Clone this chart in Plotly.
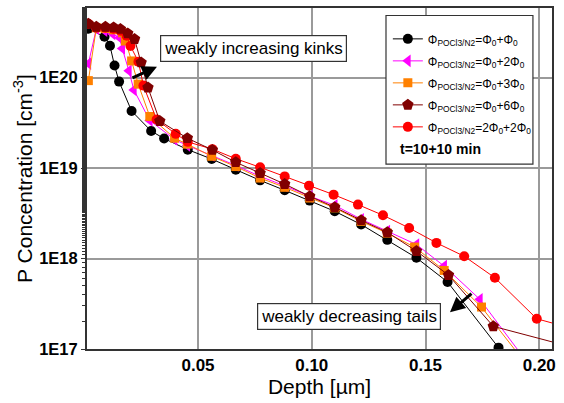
import plotly.graph_objects as go

# ---- data (depth in µm, concentration in cm^-3) ----
x_a = [0.0018, 0.0089, 0.0113, 0.0133, 0.0153, 0.0208, 0.0294, 0.0351, 0.0455, 0.0560,
       0.0666, 0.0773, 0.0881, 0.0991, 0.1101, 0.1217, 0.1332, 0.1460, 0.1597, 0.1821]
y_a = [3.47e20, 2.83e20, 2.25e20, 1.36e20, 9.04e19, 4.28e19, 2.57e19, 2.12e19, 1.60e19, 1.26e19,
       9.61e18, 7.32e18, 5.68e18, 4.37e18, 3.33e18, 2.38e18, 1.61e18, 1.02e18, 5.50e17, 1.035e17]

x_b = [0.0018, 0.0053, 0.0089, 0.0124, 0.0155, 0.0167, 0.0196, 0.0218, 0.0288, 0.0397, 0.0453, 0.0560,
       0.0666, 0.0773, 0.0881, 0.0991, 0.1101, 0.1217, 0.1332, 0.1460, 0.1582, 0.1739, 0.1932]
y_b = [1.43e20, 3.47e20, 3.30e20, 3.05e20, 2.76e20, 2.10e20, 1.19e20, 7.32e19, 3.36e19, 2.07e19, 1.78e19, 1.38e19,
       1.07e19, 8.10e18, 6.37e18, 4.88e18, 3.88e18, 2.72e18, 2.01e18, 1.43e18, 8.25e17, 3.54e17, 7.98e16]

x_c = [0.0018, 0.0053, 0.0093, 0.0130, 0.0168, 0.0181, 0.0208, 0.0237, 0.0288, 0.0397, 0.0453, 0.0560,
       0.0666, 0.0773, 0.0881, 0.0991, 0.1101, 0.1217, 0.1332, 0.1452, 0.1582, 0.1746, 0.1923]
y_c = [9.27e19, 3.56e20, 3.50e20, 3.38e20, 3.13e20, 2.54e20, 1.53e20, 8.47e19, 3.72e19, 2.14e19, 1.84e19, 1.35e19,
       1.04e19, 7.76e18, 6.13e18, 4.67e18, 3.63e18, 2.58e18, 1.91e18, 1.34e18, 7.39e17, 2.91e17, 7.86e16]

x_d = [0.0018, 0.0053, 0.0093, 0.0129, 0.0159, 0.0191, 0.0221, 0.0250, 0.0280, 0.0332, 0.0453, 0.0563,
       0.0666, 0.0773, 0.0881, 0.0991, 0.1101, 0.1217, 0.1332, 0.1460, 0.1601, 0.1798, 0.2157]
y_d = [3.94e20, 3.65e20, 3.65e20, 3.59e20, 3.45e20, 3.08e20, 2.67e20, 1.47e20, 7.76e19, 3.31e19, 2.14e19, 1.59e19,
       1.16e19, 8.81e18, 6.66e18, 4.88e18, 3.69e18, 2.65e18, 1.95e18, 1.21e18, 6.56e17, 1.78e17, 1.028e17]

x_e = [0.0018, 0.0053, 0.0093, 0.0128, 0.0159, 0.0186, 0.0203, 0.0238, 0.0260, 0.0318, 0.0402, 0.0455, 0.0563,
       0.0666, 0.0773, 0.0881, 0.0988, 0.1096, 0.1203, 0.1313, 0.1428, 0.1548, 0.1670, 0.1805, 0.1989, 0.2157]
y_e = [3.94e20, 3.56e20, 3.56e20, 3.47e20, 3.30e20, 2.90e20, 2.24e20, 1.50e20, 8.17e19, 3.44e19, 2.39e19, 1.95e19, 1.62e19,
       1.27e19, 1.02e19, 8.10e18, 6.40e18, 5.09e18, 3.95e18, 3.01e18, 2.18e18, 1.49e18, 1.06e18, 6.13e17, 2.16e17, 1.65e17]

names = ["Φ<sub>POCl3/N2</sub>=Φ<sub>0</sub>+Φ<sub>0</sub>",
         "Φ<sub>POCl3/N2</sub>=Φ<sub>0</sub>+2Φ<sub>0</sub>",
         "Φ<sub>POCl3/N2</sub>=Φ<sub>0</sub>+3Φ<sub>0</sub>",
         "Φ<sub>POCl3/N2</sub>=Φ<sub>0</sub>+6Φ<sub>0</sub>",
         "Φ<sub>POCl3/N2</sub>=2Φ<sub>0</sub>+2Φ<sub>0</sub>"]
colors = ["#000000", "#FF00FF", "#FF8000", "#800000", "#FF0000"]
symbols = ["circle", "triangle-left", "square", "pentagon", "circle"]
sizes = [10, 11, 9, 12, 10]

x_ticks = [0.05, 0.10, 0.15, 0.20]
x_ticktext = ["0.05", "0.10", "0.15", "0.20"]
y_ticks = [1e17, 1e18, 1e19, 1e20]
y_ticktext = ["1E17", "1E18", "1E19", "1E20"]

FONT = "Arial, 'Liberation Sans', sans-serif"

fig = go.Figure()
series = [(x_a, y_a), (x_b, y_b), (x_c, y_c), (x_e, y_e), (x_d, y_d)]
idx_order = [0, 1, 2, 4, 3]
for (xs, ys), i in zip(series, idx_order):
    fig.add_trace(go.Scatter(
        x=xs, y=ys, mode="lines+markers", name=names[i],
        line=dict(color=colors[i], width=1),
        marker=dict(symbol=symbols[i], size=sizes[i], color=colors[i], line=dict(width=0)),
        legendrank=i + 1, legendgroup=str(i), cliponaxis=True,
    ))

fig.update_layout(
    width=564, height=403,
    margin=dict(l=87, r=12, t=6, b=54),
    paper_bgcolor="white", plot_bgcolor="white",
    font=dict(family=FONT, color="black"),
    showlegend=True,
    legend=dict(x=0.647, y=0.952, xanchor="left", yanchor="top",
                bgcolor="rgba(0,0,0,0)", borderwidth=0,
                font=dict(size=12, family=FONT), tracegroupgap=3,
                itemsizing="trace"),
    xaxis=dict(range=[0.0012, 0.2056], tickvals=x_ticks,
               ticktext=["<b>%s</b>" % t for t in x_ticktext],
               tickfont=dict(size=17), showgrid=True, gridcolor="#9a9a9a", gridwidth=1.5,
               showline=True, linecolor="#333333", linewidth=2, mirror=True,
               ticks="", zeroline=False,
               title=dict(text="Depth [µm]", font=dict(size=21), standoff=4)),
    yaxis=dict(type="log", range=[17, 20.77], tickvals=y_ticks,
               ticktext=["<b>%s</b>" % t for t in y_ticktext],
               tickfont=dict(size=16.5), showgrid=True, gridcolor="#9a9a9a", gridwidth=1.5,
               showline=True, linecolor="#333333", linewidth=2, mirror=True,
               ticks="outside", ticklen=4, tickcolor="#333333",
               minor=dict(ticks="outside", ticklen=3, tickcolor="#333333", showgrid=False),
               zeroline=False,
               title=dict(text="P Concentration [cm<sup>-3</sup>]", font=dict(size=21), standoff=1)),
    yaxis2=dict(type="log", range=[17, 20.77], overlaying="y", side="right", anchor="x",
                tickvals=y_ticks, showticklabels=False, showgrid=False,
                ticks="inside", ticklen=4, tickcolor="#333333",
                minor=dict(ticks="inside", ticklen=3, tickcolor="#333333", showgrid=False),
                zeroline=False),
)

# legend frame
fig.add_shape(type="rect", xref="paper", yref="paper", x0=0.643, x1=0.959, y0=0.542, y1=0.978,
              line=dict(color="#333333", width=1.2), fillcolor="white", layer="above")
fig.add_annotation(xref="paper", yref="paper", x=0.668, y=0.587, xanchor="left", yanchor="middle",
                   text="<b>t=10+10 min</b>", showarrow=False, font=dict(size=14, family=FONT))

# text boxes
fig.add_annotation(xref="paper", yref="paper", x=0.358, y=0.880, xanchor="center", yanchor="middle",
                   text="weakly increasing kinks",
                   showarrow=False, font=dict(size=17, family=FONT), bgcolor="white",
                   bordercolor="#333333", borderwidth=1.2, borderpad=3)
fig.add_annotation(xref="paper", yref="paper", x=0.5645, y=0.095, xanchor="center", yanchor="middle",
                   text="weakly decreasing tails",
                   showarrow=False, font=dict(size=17, family=FONT), bgcolor="white",
                   bordercolor="#333333", borderwidth=1.2, borderpad=3)
# arrows
fig.add_annotation(xref="paper", yref="paper", x=0.1505, y=0.828, ax=-26, ay=12, text=" ",
                   font=dict(size=1), showarrow=True, arrowhead=2, arrowsize=1, arrowwidth=3,
                   arrowcolor="black")
fig.add_annotation(xref="paper", yref="paper", x=0.7806, y=0.1079, ax=23, ay=-20, text=" ",
                   font=dict(size=1), showarrow=True, arrowhead=2, arrowsize=1, arrowwidth=3,
                   arrowcolor="black")

fig.write_html("out.html", config={"displayModeBar": False},
               post_script="document.body.style.margin='0px';document.body.style.padding='0px';"
                           "document.body.style.overflow='hidden';")
